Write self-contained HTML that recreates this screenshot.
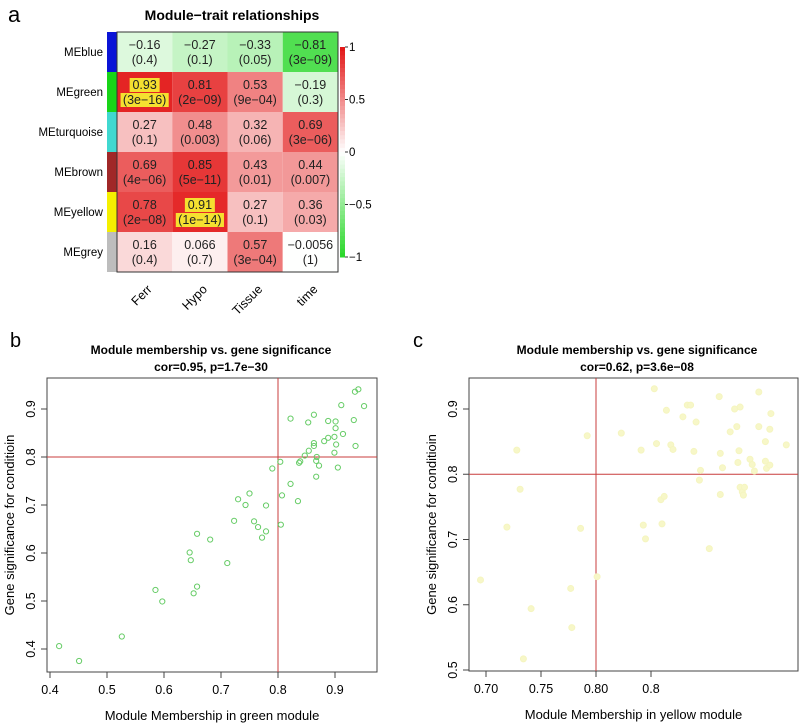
<!DOCTYPE html>
<html><head><meta charset="utf-8"><style>
body{margin:0;background:#fff;}
svg{display:block;font-family:"Liberation Sans",Arial,sans-serif;}
</style></head><body>
<svg id="fig" width="800" height="725" viewBox="0 0 800 725" xmlns="http://www.w3.org/2000/svg">
<g id="pa"></g>
<g id="pb"></g>
<g id="pc"></g>
</svg>
<script>
const modules=["MEblue","MEgreen","MEturquoise","MEbrown","MEyellow","MEgrey"];
const moduleColors=["#0a14d6","#18d418","#40d8d0","#a02828","#f5f000","#bdbdbd"];
const traits=["Ferr","Hypo","Tissue","time"];
const corVals=[[-0.16,-0.27,-0.33,-0.81],[0.93,0.81,0.53,-0.19],[0.27,0.48,0.32,0.69],[0.69,0.85,0.43,0.44],[0.78,0.91,0.27,0.36],[0.16,0.066,0.57,-0.0056]];
const corLabels=[["\u22120.16","\u22120.27","\u22120.33","\u22120.81"],["0.93","0.81","0.53","\u22120.19"],["0.27","0.48","0.32","0.69"],["0.69","0.85","0.43","0.44"],["0.78","0.91","0.27","0.36"],["0.16","0.066","0.57","\u22120.0056"]];
const pLabels=[["(0.4)","(0.1)","(0.05)","(3e\u221209)"],["(3e\u221216)","(2e\u221209)","(9e\u221204)","(0.3)"],["(0.1)","(0.003)","(0.06)","(3e\u221206)"],["(4e\u221206)","(5e\u221211)","(0.01)","(0.007)"],["(2e\u221208)","(1e\u221214)","(0.1)","(0.03)"],["(0.4)","(0.7)","(3e\u221204)","(1)"]];
const colorbarTicks=[1,0.5,0,-0.5,-1];
const colorbarTickLabels=["1","0.5","0","\u22120.5","\u22121"];

const greenX=[0.416,0.451,0.526,0.585,0.597,0.645,0.647,0.658,0.658,0.652,0.681,0.711,0.723,0.730,0.743,0.750,0.758,0.765,0.772,0.779,0.779,0.790,0.805,0.804,0.807,0.822,0.822,0.835,0.837,0.839,0.847,0.853,0.854,0.863,0.863,0.863,0.867,0.867,0.868,0.872,0.881,0.888,0.888,0.899,0.901,0.901,0.899,0.902,0.905,0.911,0.914,0.933,0.936,0.935,0.941,0.951];
const greenY=[0.406,0.375,0.426,0.523,0.499,0.601,0.585,0.640,0.530,0.516,0.628,0.579,0.667,0.712,0.700,0.724,0.666,0.654,0.632,0.645,0.699,0.776,0.659,0.790,0.720,0.744,0.880,0.708,0.788,0.791,0.803,0.872,0.813,0.888,0.829,0.823,0.759,0.792,0.800,0.782,0.833,0.840,0.875,0.842,0.860,0.874,0.809,0.826,0.778,0.908,0.848,0.877,0.823,0.936,0.941,0.906];
const greenXTicks=[0.4,0.5,0.6,0.7,0.8,0.9];
const greenXTickLabels=["0.4","0.5","0.6","0.7","0.8","0.9"];
const greenYTicks=[0.4,0.5,0.6,0.7,0.8,0.9];
const greenYTickLabels=["0.4","0.5","0.6","0.7","0.8","0.9"];

const yellowX=[0.695,0.719,0.728,0.731,0.734,0.741,0.777,0.778,0.786,0.792,0.801,0.823,0.841,0.843,0.845,0.853,0.855,0.859,0.860,0.862,0.864,0.868,0.870,0.879,0.883,0.886,0.889,0.891,0.894,0.895,0.903,0.912,0.913,0.913,0.915,0.922,0.926,0.928,0.929,0.930,0.931,0.931,0.933,0.934,0.935,0.940,0.942,0.944,0.948,0.948,0.954,0.955,0.958,0.958,0.959,0.973,0.954];
const yellowY=[0.638,0.719,0.837,0.777,0.517,0.594,0.625,0.565,0.717,0.859,0.643,0.863,0.837,0.722,0.701,0.931,0.847,0.761,0.724,0.766,0.898,0.845,0.838,0.888,0.906,0.906,0.835,0.880,0.791,0.806,0.686,0.919,0.832,0.769,0.810,0.865,0.900,0.873,0.818,0.836,0.780,0.903,0.773,0.768,0.780,0.823,0.815,0.805,0.926,0.873,0.850,0.809,0.814,0.869,0.893,0.845,0.820];
const yellowXTicks=[0.70,0.75,0.80,0.85];
const yellowXTickLabels=["0.70","0.75","0.80","0.8"];
const yellowYTicks=[0.5,0.6,0.7,0.8,0.9];
const yellowYTickLabels=["0.5","0.6","0.7","0.8","0.9"];

const NS="http://www.w3.org/2000/svg";
function mk(parent,tag,attrs,text){const e=document.createElementNS(NS,tag);for(const k in attrs)e.setAttribute(k,attrs[k]);if(text!==undefined)e.textContent=text;parent.appendChild(e);return e;}
function lerp(a,b,t){return Math.round(a+(b-a)*t);}
function heatColor(v){
  if(v>=0){const t=Math.min(1,v);return `rgb(${lerp(255,226,t)},${lerp(255,20,t)},${lerp(255,20,t)})`;}
  const t=Math.min(1,-v);return `rgb(${lerp(255,40,t)},${lerp(255,215,t)},${lerp(255,40,t)})`;
}

(function(){
  const g=document.getElementById('pa');
  const x0=117,x1=338,y0=32,y1=272;
  const cw=(x1-x0)/traits.length, ch=(y1-y0)/modules.length;
  let t=mk(g,'text',{x:8,y:22,'font-size':22});t.textContent='a';
  
  t=mk(g,'text',{x:232,y:20,'font-size':14,'font-weight':'bold','text-anchor':'middle'},'Module\u2212trait relationships');
  
  modules.forEach((m,i)=>{
    const cy=y0+i*ch;
    let s=mk(g,'rect',{x:107,y:cy,width:10,height:ch,fill:moduleColors[i]});
    
    let l=mk(g,'text',{x:103,y:cy+ch/2+4,'font-size':11.5,'text-anchor':'end'},m);
    
    traits.forEach((tr,j)=>{
      const cx=x0+j*cw;
      const c=mk(g,'rect',{x:cx,y:cy,width:cw,height:ch,fill:heatColor(corVals[i][j])});
      
      const hl=corVals[i][j]>0.9;
      if(hl){
        const w1=corLabels[i][j].length*7+2, w2=pLabels[i][j].length*6.6+2;
        let h=mk(g,'rect',{x:cx+cw/2-w1/2,y:cy+6,width:w1,height:14,fill:'#f5e030'});
        
        h=mk(g,'rect',{x:cx+cw/2-w2/2,y:cy+21,width:w2,height:14,fill:'#f5e030'});
        
      }
      let a=mk(g,'text',{x:cx+cw/2,y:cy+17,'font-size':12.5,'text-anchor':'middle',fill:'#222'},corLabels[i][j]);
      
      a=mk(g,'text',{x:cx+cw/2,y:cy+32,'font-size':12.5,'text-anchor':'middle',fill:'#222'},pLabels[i][j]);
      
    });
  });
  let b=mk(g,'rect',{x:x0,y:y0,width:x1-x0,height:y1-y0,fill:'none',stroke:'#333','stroke-width':1});
  
  traits.forEach((tr,j)=>{
    const cx=x0+j*cw+cw/2;
    const l=mk(g,'text',{x:cx+8,y:290,'font-size':12.5,'text-anchor':'end',transform:`rotate(-45 ${cx+8} 290)`},tr);
    
  });
  const by0=47,by1=257,bx=340;
  const yb=v=>by0+(1-v)/2*(by1-by0);
  for(let k=0;k<50;k++){
    const v=1-k*0.04;
    const r=mk(g,'rect',{x:bx,y:yb(v),width:5,height:(by1-by0)/50+0.5,fill:heatColor(v-0.02)});
    
  }
  colorbarTicks.forEach((v,k)=>{
    let ln=mk(g,'line',{x1:bx+5,x2:bx+8,y1:yb(v),y2:yb(v),stroke:'#333'});
    
    const l=mk(g,'text',{x:bx+9,y:yb(v)+4,'font-size':11.5},colorbarTickLabels[k]);
    
  });
})();

function scatter(gid,cfg){
  const g=document.getElementById(gid);
  const {L,R,T,B,xmin,xmax,ymin,ymax,xpx0,xpx1,ypx0,ypx1}=cfg;
  const sx=v=>xpx0+(v-xmin)/(xmax-xmin)*(xpx1-xpx0);
  const sy=v=>ypx0+(v-ymin)/(ymax-ymin)*(ypx1-ypx0);
  let t=mk(g,'text',{x:cfg.lx,y:cfg.ly,'font-size':20},cfg.letter);
  
  t=mk(g,'text',{x:cfg.tx,y:T-24,'font-size':12,'font-weight':'bold','text-anchor':'middle'},'Module membership vs. gene significance');
  
  t=mk(g,'text',{x:cfg.tx,y:T-7,'font-size':12,'font-weight':'bold','text-anchor':'middle'},cfg.sub);
  
  let b=mk(g,'rect',{x:L,y:T,width:R-L,height:B-T,fill:'none',stroke:'#444','stroke-width':1});
  
  let ln=mk(g,'line',{x1:sx(0.8),x2:sx(0.8),y1:T,y2:B,stroke:'#c83c3c','stroke-width':1});
  
  ln=mk(g,'line',{x1:L,x2:R,y1:sy(0.8),y2:sy(0.8),stroke:'#c83c3c','stroke-width':1});
  
  cfg.xt.forEach((v,k)=>{
    const tk=mk(g,'line',{x1:sx(v),x2:sx(v),y1:B,y2:B+6,stroke:'#444'});
    
    const l=mk(g,'text',{x:sx(v),y:B+22,'font-size':12.5,'text-anchor':'middle'},cfg.xtl[k]);
    
  });
  cfg.yt.forEach((v,k)=>{
    const tk=mk(g,'line',{x1:L-6,x2:L,y1:sy(v),y2:sy(v),stroke:'#444'});
    
    const yy=sy(v),xx=L-12;
    const l=mk(g,'text',{x:xx,y:yy,'font-size':12.5,'text-anchor':'middle',transform:`rotate(-90 ${xx} ${yy})`},cfg.ytl[k]);
    
  });
  t=mk(g,'text',{x:(L+R)/2,y:B+48,'font-size':13,'text-anchor':'middle'},cfg.xlab);
  
  const yx=cfg.ytx, yy=(T+B)/2;
  t=mk(g,'text',{x:yx,y:yy,'font-size':13,'text-anchor':'middle',transform:`rotate(-90 ${yx} ${yy})`},'Gene significance for conditioin');
  
  cfg.xs.forEach((v,i)=>{
    const c=mk(g,'circle',{cx:sx(v),cy:sy(cfg.ys[i]),r:cfg.r,fill:cfg.fill,stroke:cfg.stroke,'stroke-width':1});
    
  });
}
scatter('pb',{letter:'b',lx:10,ly:347,tx:211,sub:'cor=0.95, p=1.7e\u221230',L:47,R:377,T:378,B:672,xmin:0.4,xmax:0.9,ymin:0.4,ymax:0.9,xpx0:50,xpx1:335,ypx0:649,ypx1:409,xt:greenXTicks,xtl:greenXTickLabels,yt:greenYTicks,ytl:greenYTickLabels,xs:greenX,ys:greenY,r:2.6,fill:'none',stroke:'#66cc66',xlab:'Module Membership in green module',ytx:14});
scatter('pc',{letter:'c',lx:413,ly:347,tx:637,sub:'cor=0.62, p=3.6e\u221208',L:469,R:798,T:378,B:671,xmin:0.7,xmax:0.8,ymin:0.5,ymax:0.9,xpx0:486,xpx1:596,ypx0:670,ypx1:409,xt:yellowXTicks,xtl:yellowXTickLabels,yt:yellowYTicks,ytl:yellowYTickLabels,xs:yellowX,ys:yellowY,r:3,fill:'#f7f7c8',stroke:'#f5f5c0',xlab:'Module Membership in yellow module',ytx:436});
</script>
</body></html>
